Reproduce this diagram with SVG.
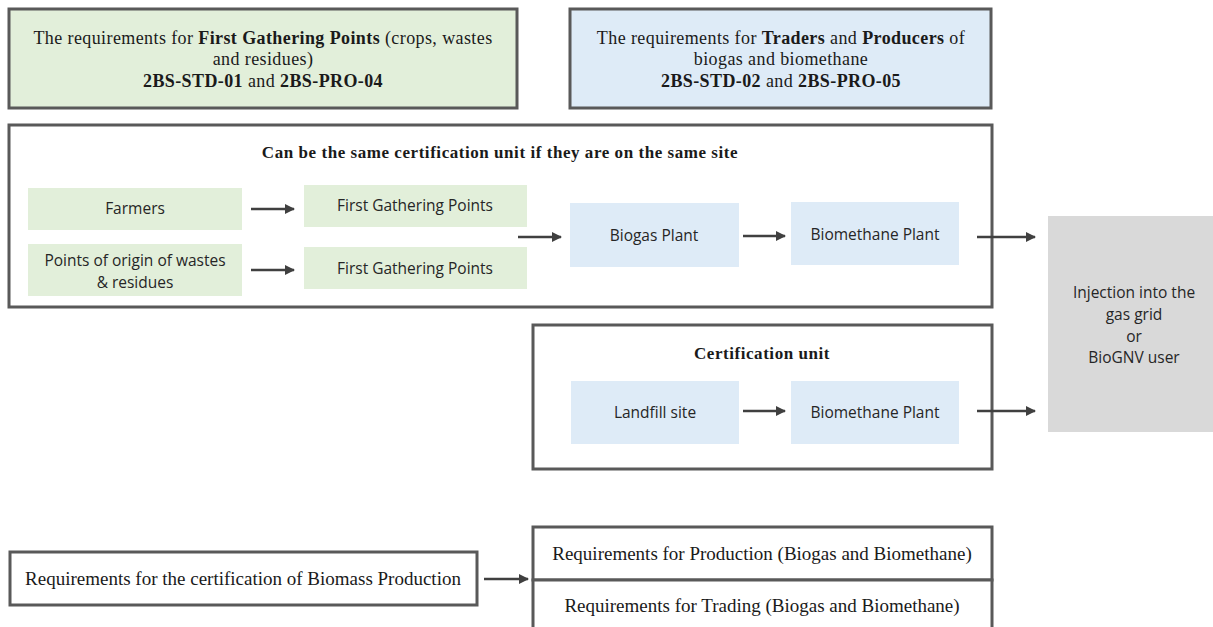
<svg xmlns="http://www.w3.org/2000/svg" width="1213" height="627" viewBox="0 0 1213 627">
<defs>
<marker id="ah" viewBox="0 0 10 10" refX="9" refY="5" markerWidth="4" markerHeight="4" orient="auto" markerUnits="strokeWidth">
<path d="M0,0 L10,5 L0,10 z" fill="#404040"/>
</marker>
<style>
.frame{fill:#ffffff;stroke:#595959;stroke-width:3}
.green{fill:#e2efda}
.blue{fill:#deebf7}
.gray{fill:#d9d9d9}
.serif{font-family:"Liberation Serif","DejaVu Serif",serif;fill:#1a1a1a}
.hdr{font-size:18px;letter-spacing:0.4px}
.ttl{font-size:17px;letter-spacing:0.55px;font-weight:bold}
.req{font-size:19px}
.sans{font-family:"Open Sans","Noto Sans",sans-serif;font-size:15.5px;fill:#262626}
.b{font-weight:bold}
.arrow{stroke:#404040;stroke-width:2.5;fill:none;marker-end:url(#ah)}
</style>
</defs>
<rect width="1213" height="627" fill="#ffffff"/>

<g id="req-fgp">
<rect x="9" y="9" width="508" height="99" fill="#e2efda" stroke="#595959" stroke-width="3"/>
<text class="serif hdr" text-anchor="middle" x="263" y="44">The requirements for <tspan class="b">First Gathering Points</tspan> (crops, wastes</text>
<text class="serif hdr" text-anchor="middle" x="263" y="65">and residues)</text>
<text class="serif hdr" text-anchor="middle" x="263" y="87"><tspan class="b">2BS-STD-01</tspan> and <tspan class="b">2BS-PRO-04</tspan></text>
</g>

<g id="req-traders">
<rect x="570" y="9" width="421" height="99" fill="#deebf7" stroke="#595959" stroke-width="3"/>
<text class="serif hdr" text-anchor="middle" x="781" y="44">The requirements for <tspan class="b">Traders</tspan> and <tspan class="b">Producers</tspan> of</text>
<text class="serif hdr" text-anchor="middle" x="781" y="65">biogas and biomethane</text>
<text class="serif hdr" text-anchor="middle" x="781" y="87"><tspan class="b">2BS-STD-02</tspan> and <tspan class="b">2BS-PRO-05</tspan></text>
</g>

<g id="same-site-unit">
<rect class="frame" x="9" y="125" width="983" height="182"/>
<text class="serif ttl" text-anchor="middle" x="500" y="158">Can be the same certification unit if they are on the same site</text>
</g>

<g id="farmers">
<rect class="green" x="28" y="188" width="214" height="42"/>
<text class="sans" text-anchor="middle" x="135" y="214">Farmers</text>
</g>
<g id="points-origin">
<rect class="green" x="28" y="244" width="214" height="52"/>
<text class="sans" text-anchor="middle" x="135" y="266">Points of origin of wastes</text>
<text class="sans" text-anchor="middle" x="135" y="288">&amp; residues</text>
</g>
<g id="fgp-1">
<rect class="green" x="304" y="185" width="223" height="42"/>
<text class="sans" text-anchor="middle" x="415" y="211">First Gathering Points</text>
</g>
<g id="fgp-2">
<rect class="green" x="304" y="247" width="223" height="42"/>
<text class="sans" text-anchor="middle" x="415" y="274">First Gathering Points</text>
</g>
<g id="biogas-plant">
<rect class="blue" x="570" y="203" width="169" height="64"/>
<text class="sans" text-anchor="middle" x="654" y="241">Biogas Plant</text>
</g>
<g id="biomethane-plant-1">
<rect class="blue" x="791" y="202" width="168" height="63"/>
<text class="sans" text-anchor="middle" x="875" y="240">Biomethane Plant</text>
</g>

<g id="certification-unit">
<rect class="frame" x="533" y="325" width="459" height="144"/>
<text class="serif ttl" text-anchor="middle" x="762" y="359">Certification unit</text>
</g>
<g id="landfill">
<rect class="blue" x="571" y="381" width="168" height="63"/>
<text class="sans" text-anchor="middle" x="655" y="418">Landfill site</text>
</g>
<g id="biomethane-plant-2">
<rect class="blue" x="791" y="381" width="168" height="63"/>
<text class="sans" text-anchor="middle" x="875" y="418">Biomethane Plant</text>
</g>

<g id="injection">
<rect class="gray" x="1048" y="216" width="170" height="216"/>
<text class="sans" font-size="15" text-anchor="middle" x="1134" y="298">Injection into the</text>
<text class="sans" font-size="15" text-anchor="middle" x="1134" y="320">gas grid</text>
<text class="sans" font-size="15" text-anchor="middle" x="1134" y="342">or</text>
<text class="sans" font-size="15" text-anchor="middle" x="1134" y="363">BioGNV user</text>
</g>

<g id="biomass-req">
<rect x="10" y="552" width="467" height="53" fill="#ffffff" stroke="#595959" stroke-width="3"/>
<text class="serif req" text-anchor="middle" x="243" y="585">Requirements for the certification of Biomass Production</text>
</g>
<g id="production-req">
<rect x="533" y="527" width="459" height="53" fill="#ffffff" stroke="#595959" stroke-width="3"/>
<text class="serif req" text-anchor="middle" x="762" y="560">Requirements for Production (Biogas and Biomethane)</text>
</g>
<g id="trading-req">
<rect x="533" y="580" width="459" height="60" fill="#ffffff" stroke="#595959" stroke-width="3"/>
<text class="serif req" text-anchor="middle" x="762" y="612">Requirements for Trading (Biogas and Biomethane)</text>
</g>

<g id="connectors">
<line class="arrow" x1="251" y1="209" x2="294" y2="209"/>
<line class="arrow" x1="251" y1="270" x2="294" y2="270"/>
<line class="arrow" x1="518" y1="237" x2="561" y2="237"/>
<line class="arrow" x1="743" y1="236" x2="785" y2="236"/>
<line class="arrow" x1="977" y1="237" x2="1035" y2="237"/>
<line class="arrow" x1="743" y1="411" x2="785" y2="411"/>
<line class="arrow" x1="977" y1="411" x2="1035" y2="411"/>
<line class="arrow" x1="484" y1="579" x2="528" y2="579"/>
</g>
</svg>
